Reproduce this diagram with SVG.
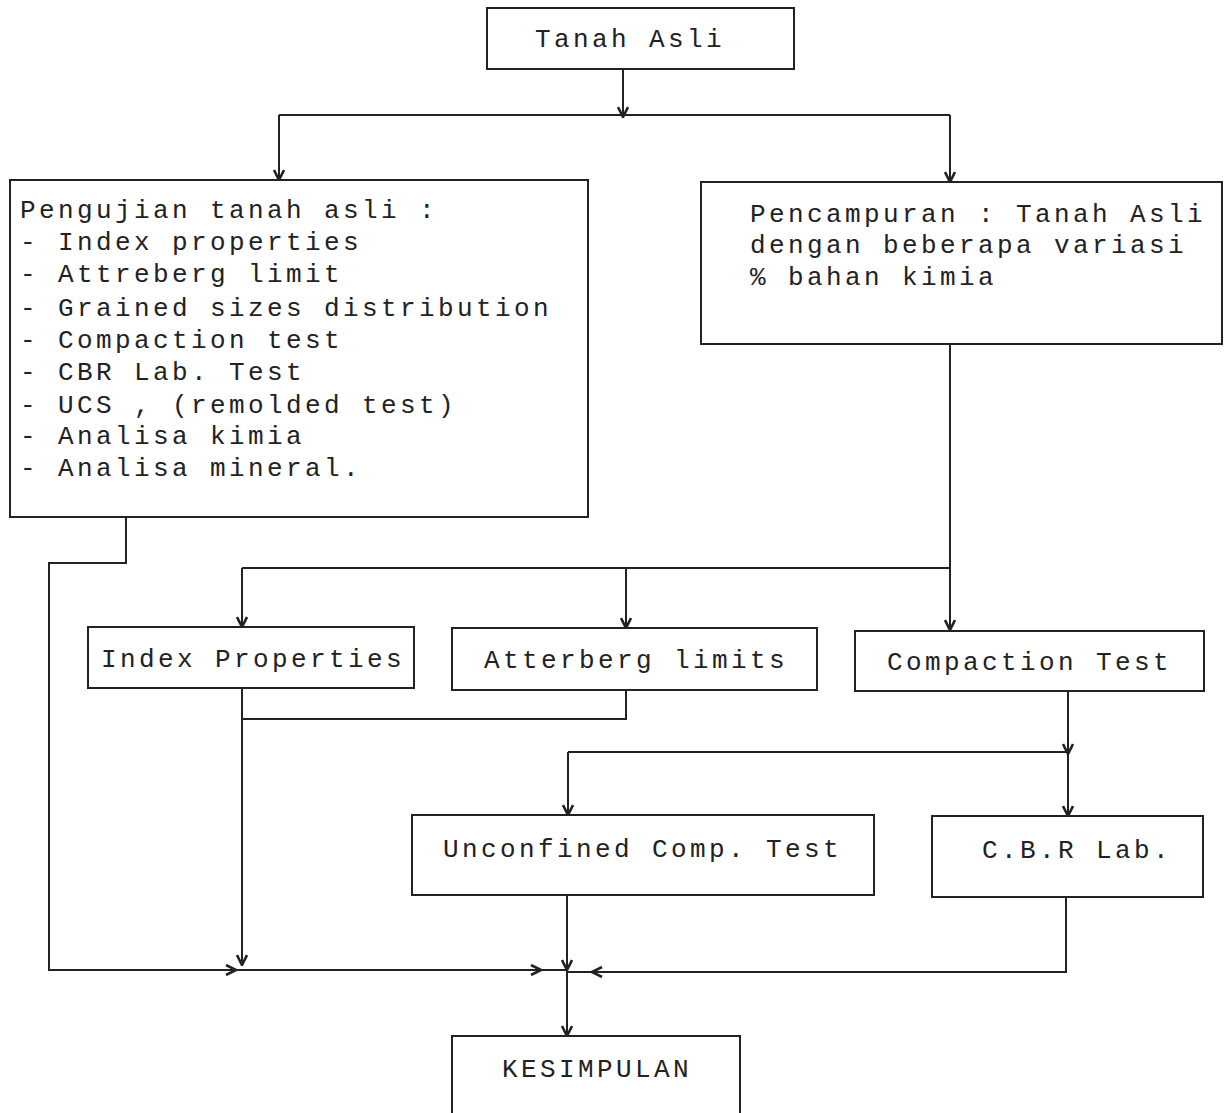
<svg xmlns="http://www.w3.org/2000/svg" width="1228" height="1113" viewBox="0 0 1228 1113">
<defs>
<marker id="ah" viewBox="0 0 12 12" refX="11" refY="6" markerWidth="12" markerHeight="12" markerUnits="userSpaceOnUse" orient="auto">
<path d="M1,1 L11,6 L1,11" fill="none" stroke="#222" stroke-width="2.6"/>
</marker>
</defs>
<style>
.box{fill:#fff;stroke:#222;stroke-width:2}
.t{font-family:"Liberation Mono","DejaVu Sans Mono",monospace;font-size:26px;letter-spacing:3.4px;fill:#222}
.c{fill:none;stroke:#222;stroke-width:2}
</style>
<rect width="1228" height="1113" fill="#fff"/>
<g id="connectors">
<path class="c" d="M623,69 V117" marker-end="url(#ah)"/>
<path class="c" d="M279,115 H950"/>
<path class="c" d="M279,115 V180" marker-end="url(#ah)"/>
<path class="c" d="M950,115 V182" marker-end="url(#ah)"/>
<path class="c" d="M950,344 V630" marker-end="url(#ah)"/>
<path class="c" d="M242,568 H950"/>
<path class="c" d="M242,568 V627" marker-end="url(#ah)"/>
<path class="c" d="M626,568 V628" marker-end="url(#ah)"/>
<path class="c" d="M126,517 V563 H49 V970 H236" marker-end="url(#ah)"/>
<path class="c" d="M242,688 V965" marker-end="url(#ah)"/>
<path class="c" d="M626,690 V719 H242"/>
<path class="c" d="M236,970 H541" marker-end="url(#ah)"/>
<path class="c" d="M541,970 H567"/>
<path class="c" d="M1068,691 V754" marker-end="url(#ah)"/>
<path class="c" d="M568,752 H1068 V816" marker-end="url(#ah)"/>
<path class="c" d="M568,752 V815" marker-end="url(#ah)"/>
<path class="c" d="M567,895 V970" marker-end="url(#ah)"/>
<path class="c" d="M567,970 V1036" marker-end="url(#ah)"/>
<path class="c" d="M1066,897 V972 H592" marker-end="url(#ah)"/>
<path class="c" d="M592,972 H567"/>
</g>
<g id="tanah-asli">
<rect class="box" x="487" y="8" width="307" height="61"/>
<text class="t" x="535" y="47">Tanah Asli</text>
</g>
<g id="pengujian">
<rect class="box" x="10" y="180" width="578" height="337"/>
<text class="t" x="20" y="218">Pengujian tanah asli :</text>
<text class="t" x="20" y="250">- Index properties</text>
<text class="t" x="20" y="282">- Attreberg limit</text>
<text class="t" x="20" y="316">- Grained sizes distribution</text>
<text class="t" x="20" y="348">- Compaction test</text>
<text class="t" x="20" y="380">- CBR Lab. Test</text>
<text class="t" x="20" y="413">- UCS , (remolded test)</text>
<text class="t" x="20" y="444">- Analisa kimia</text>
<text class="t" x="20" y="476">- Analisa mineral.</text>
</g>
<g id="pencampuran">
<rect class="box" x="701" y="182" width="521" height="162"/>
<text class="t" x="750" y="222">Pencampuran : Tanah Asli</text>
<text class="t" x="750" y="253">dengan beberapa variasi</text>
<text class="t" x="750" y="285">% bahan kimia</text>
</g>
<g id="index-properties">
<rect class="box" x="88" y="627" width="326" height="61"/>
<text class="t" x="101" y="667">Index Properties</text>
</g>
<g id="atterberg">
<rect class="box" x="452" y="628" width="365" height="62"/>
<text class="t" x="484" y="668">Atterberg limits</text>
</g>
<g id="compaction">
<rect class="box" x="855" y="631" width="349" height="60"/>
<text class="t" x="887" y="670">Compaction Test</text>
</g>
<g id="unconfined">
<rect class="box" x="412" y="815" width="462" height="80"/>
<text class="t" x="443" y="857">Unconfined Comp. Test</text>
</g>
<g id="cbr">
<rect class="box" x="932" y="816" width="271" height="81"/>
<text class="t" x="982" y="858">C.B.R Lab.</text>
</g>
<g id="kesimpulan">
<rect class="box" x="452" y="1036" width="288" height="82"/>
<text class="t" x="502" y="1077">KESIMPULAN</text>
</g>
</svg>
